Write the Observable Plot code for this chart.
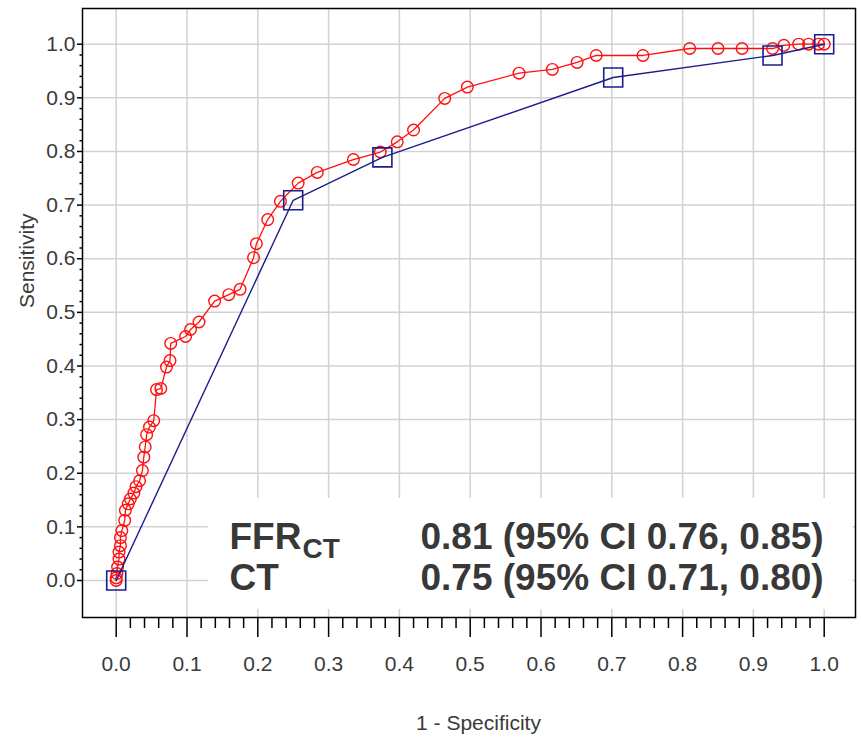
<!DOCTYPE html>
<html><head><meta charset="utf-8">
<script src="https://cdn.jsdelivr.net/npm/d3@7"></script>
<script src="https://cdn.jsdelivr.net/npm/@observablehq/plot@0.6"></script>
<style>html,body{margin:0;padding:0;background:#fff}</style>
</head><body><div id="chart"></div>
<script>
// FFR-CT ROC curve (red circles)
const ffrX = [0, 0, 0.001, 0.002, 0.004, 0.004, 0.006, 0.006, 0.008, 0.012, 0.013, 0.017, 0.020, 0.025, 0.028, 0.033, 0.037, 0.039, 0.041, 0.043, 0.047, 0.053, 0.057, 0.063, 0.071, 0.076, 0.077, 0.098, 0.105, 0.117, 0.139, 0.159, 0.175, 0.194, 0.198, 0.214, 0.232, 0.257, 0.284, 0.335, 0.373, 0.397, 0.420, 0.464, 0.496, 0.569, 0.616, 0.651, 0.678, 0.744, 0.810, 0.850, 0.884, 0.927, 0.943, 0.964, 0.978, 0.992, 1.0];
const ffrY = [0, 0.005, 0.013, 0.025, 0.040, 0.053, 0.065, 0.080, 0.093, 0.112, 0.131, 0.143, 0.152, 0.163, 0.175, 0.186, 0.205, 0.230, 0.249, 0.272, 0.286, 0.298, 0.356, 0.358, 0.398, 0.410, 0.442, 0.455, 0.468, 0.482, 0.521, 0.533, 0.543, 0.602, 0.628, 0.673, 0.707, 0.741, 0.761, 0.785, 0.799, 0.818, 0.840, 0.899, 0.920, 0.946, 0.953, 0.966, 0.979, 0.979, 0.992, 0.992, 0.992, 0.992, 0.998, 1.0, 1.0, 1.0, 1.0];
// CT ROC curve (blue squares)
const ctX = [0, 0.250, 0.376, 0.702, 0.927, 1.0];
const ctY = [0, 0.709, 0.789, 0.938, 0.979, 1.0];
// axes
const xTicks = [0, 0.1, 0.2, 0.3, 0.4, 0.5, 0.6, 0.7, 0.8, 0.9, 1.0];
const yTicks = [0, 0.1, 0.2, 0.3, 0.4, 0.5, 0.6, 0.7, 0.8, 0.9, 1.0];
const tickLabels = ["0.0", "0.1", "0.2", "0.3", "0.4", "0.5", "0.6", "0.7", "0.8", "0.9", "1.0"];
const minorTicks = d3.range(0, 50).map(i => i * 0.02).filter(v => Math.abs(v * 10 - Math.round(v * 10)) > 1e-6);
const xTitle = "1 - Specificity";
const yTitle = "Sensitivity";
// annotation
const seriesNames = ["FFR", "CT"];
const ffrSubscript = "CT";
const aucLabels = ["0.81 (95% CI 0.76, 0.85)", "0.75 (95% CI 0.71, 0.80)"];

const ffr = ffrX.map((x, i) => ({x, y: ffrY[i]}));
const ct = ctX.map((x, i) => ({x, y: ctY[i]}));
const fmt = d => tickLabels[xTicks.findIndex(t => Math.abs(t - d) < 1e-9)];

const RED = "#ff1010";
const NAVY = "#1c1c8c";
const FONT = "Liberation Sans, Arial, sans-serif";
const TXT = "#3a3a3a";
const ann = {fontFamily: FONT, fontWeight: "bold", fontSize: 37, fill: "#383838", frameAnchor: "bottom-left", lineAnchor: "bottom", textAnchor: "start"};

const chart = Plot.plot({
  width: 861, height: 738,
  marginLeft: 82, marginRight: 6, marginTop: 8, marginBottom: 121,
  x: {domain: [-0.0476, 1.0442], label: null},
  y: {domain: [-0.069, 1.0666], label: null},
  style: {background: "white", fontFamily: FONT},
  marks: [
    Plot.gridX(xTicks, {stroke: "#d2d2d2", strokeOpacity: 1, strokeWidth: 1.5}),
    Plot.gridY(yTicks, {stroke: "#d2d2d2", strokeOpacity: 1, strokeWidth: 1.5}),
    Plot.rect([0], {x1: 0.130, x2: 1.041, y1: -0.054, y2: 0.153, fill: "white"}),
    Plot.line(ffr, {x: "x", y: "y", stroke: RED, strokeWidth: 1.3}),
    Plot.dot(ffr, {x: "x", y: "y", r: 5.8, stroke: RED, fill: "none", strokeWidth: 1.4}),
    Plot.line(ct, {x: "x", y: "y", stroke: NAVY, strokeWidth: 1.4}),
    Plot.dot(ct, {x: "x", y: "y", symbol: "square", r: 10.7, stroke: NAVY, fill: "none", strokeWidth: 1.6}),
    Plot.frame({stroke: "black", strokeWidth: 1.5}),
    Plot.axisX(xTicks, {tickSize: 20, tickPadding: 19, tickFormat: fmt, fontSize: 21, fill: TXT, stroke: "black", strokeWidth: 1.5, label: null}),
    Plot.axisX(minorTicks, {tickSize: 11, tickFormat: () => "", stroke: "black", strokeWidth: 1.5, label: null}),
    Plot.axisY(yTicks, {tickSize: 5, tickPadding: 2, tickFormat: fmt, fontSize: 21, fill: TXT, stroke: "black", strokeWidth: 1.5, label: null}),
    Plot.axisY(minorTicks, {tickSize: 2.5, tickFormat: () => "", stroke: "black", strokeWidth: 1.5, label: null}),
    Plot.text([xTitle], {text: d => d, frameAnchor: "bottom", dx: 9.5, dy: 106, lineAnchor: "middle", fontSize: 21, fill: TXT, fontFamily: FONT}),
    Plot.text([yTitle], {text: d => d, frameAnchor: "left", dx: -55, dy: -5, rotate: -90, lineAnchor: "middle", fontSize: 21, fill: TXT, fontFamily: FONT}),
    Plot.text([seriesNames[0]], {...ann, text: d => d, dx: 147, dy: -69}),
    Plot.text([ffrSubscript], {...ann, text: d => d, fontSize: 28, dx: 220, dy: -60}),
    Plot.text([seriesNames[1]], {...ann, text: d => d, dx: 147, dy: -28}),
    Plot.text([aucLabels[0]], {...ann, text: d => d, dx: 338, dy: -69}),
    Plot.text([aucLabels[1]], {...ann, text: d => d, dx: 338, dy: -28}),
  ]
});
document.getElementById("chart").appendChild(chart);
</script>
</body></html>
